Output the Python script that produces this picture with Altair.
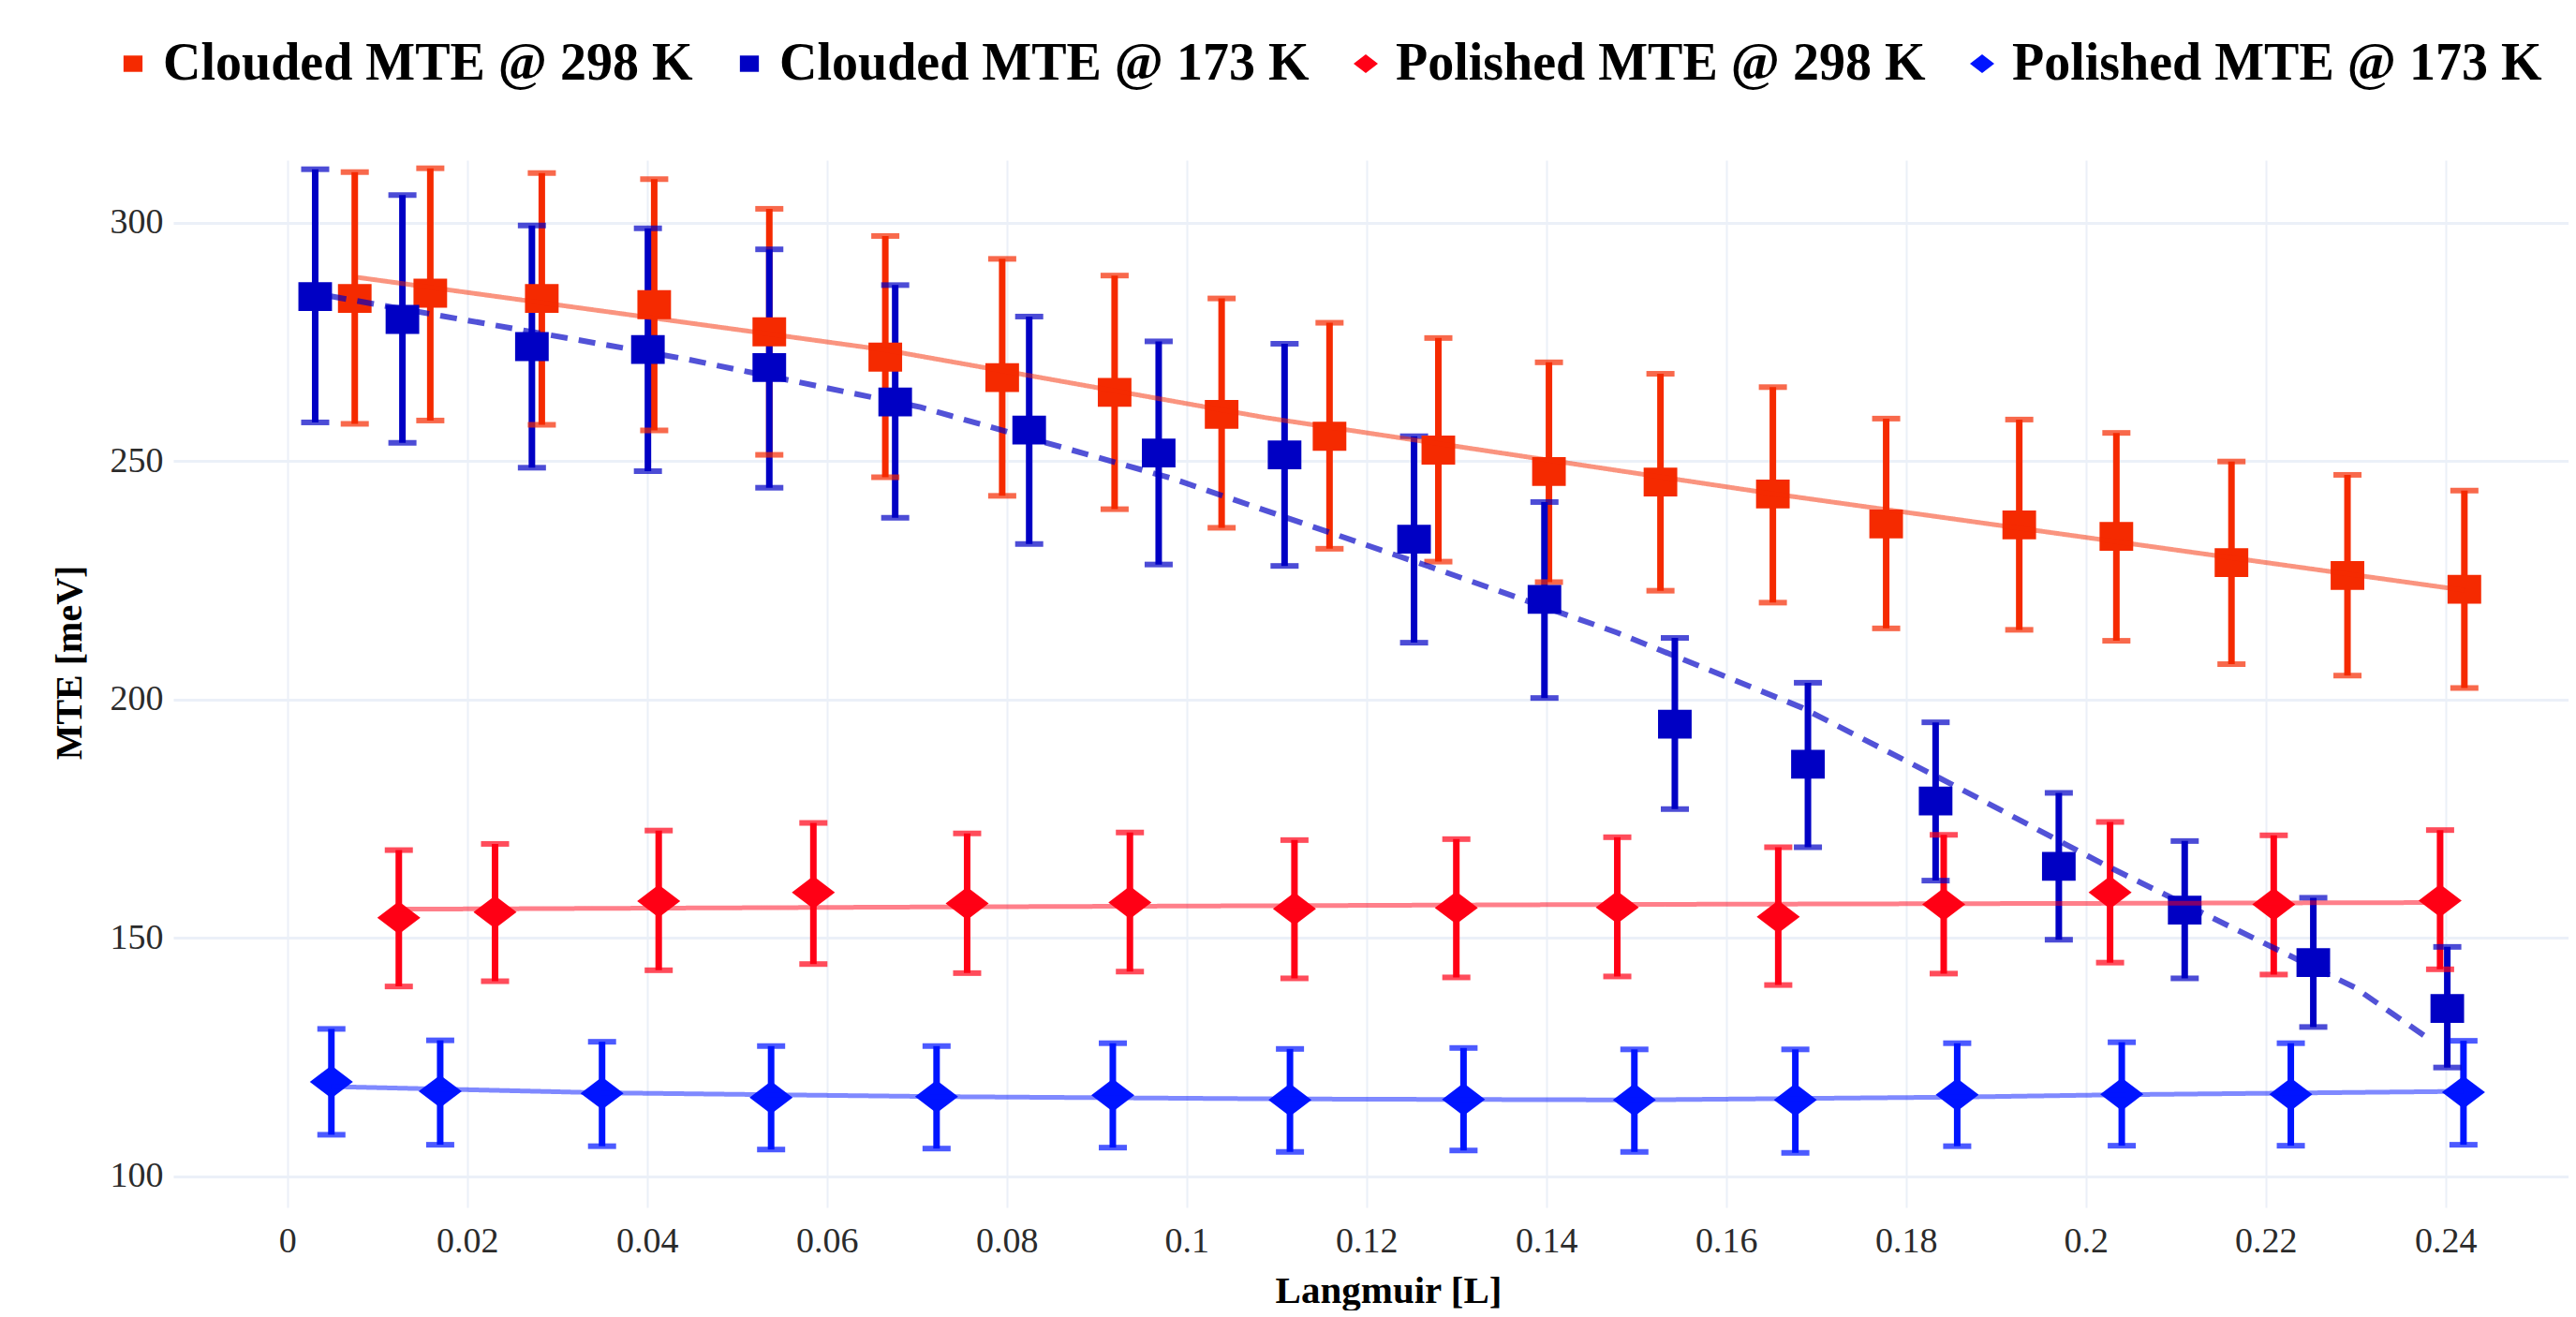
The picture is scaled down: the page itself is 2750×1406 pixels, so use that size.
import altair as alt
import pandas as pd

# ---------------- data ----------------
SERIES = ["Clouded MTE @ 298 K", "Clouded MTE @ 173 K",
          "Polished MTE @ 298 K", "Polished MTE @ 173 K"]
COLORS = ["#F52A00", "#0000C4", "#FF0015", "#0014FF"]

c298_L = [0.0075, 0.0159, 0.0283, 0.0408, 0.0536, 0.0665, 0.0795, 0.0920, 0.1039, 0.1159,
          0.1280, 0.1403, 0.1527, 0.1652, 0.1778, 0.1926, 0.2034, 0.2162, 0.2291, 0.2421]
c298_v = [284.1, 285.2, 284.1, 282.8, 277.1, 271.8, 267.5, 264.4, 259.8, 255.2,
          252.3, 247.8, 245.6, 243.1, 236.8, 236.6, 234.2, 228.7, 226.0, 223.1]
c298_hi = [310.6, 311.4, 310.4, 309.1, 302.9, 297.2, 292.4, 288.9, 284.1, 279.0,
           275.8, 270.7, 268.3, 265.5, 258.9, 258.7, 255.9, 249.9, 247.1, 243.8]
c298_lo = [257.8, 258.5, 257.6, 256.4, 251.3, 246.6, 242.7, 239.9, 236.0, 231.6,
           228.9, 224.6, 222.8, 220.3, 214.9, 214.6, 212.3, 207.4, 205.0, 202.4]

c173_L = [0.0031, 0.0128, 0.0272, 0.0401, 0.0536, 0.0676, 0.0825, 0.0969, 0.1109,
          0.1253, 0.1398, 0.1543, 0.1691, 0.1833, 0.1970, 0.2110, 0.2253, 0.2402]
c173_v = [284.5, 279.7, 274.0, 273.4, 269.6, 262.4, 256.5, 251.7, 251.3,
          233.6, 221.0, 194.8, 186.4, 178.7, 165.0, 155.8, 144.8, 135.2]
c173_hi = [311.2, 305.8, 299.4, 298.8, 294.4, 286.9, 280.3, 275.1, 274.6,
           255.2, 241.4, 212.9, 203.5, 195.2, 180.4, 170.3, 158.4, 148.1]
c173_lo = [258.1, 253.8, 248.6, 247.9, 244.4, 238.1, 232.6, 228.3, 228.0,
           211.9, 200.3, 177.0, 169.0, 162.0, 149.6, 141.5, 131.3, 122.8]

p298_L = [0.0124, 0.0231, 0.0413, 0.0585, 0.0756, 0.0937, 0.1120,
          0.1300, 0.1479, 0.1658, 0.1842, 0.2027, 0.2209, 0.2394]
p298_v = [154.2, 155.4, 157.7, 159.5, 157.2, 157.4, 156.1,
          156.3, 156.4, 154.4, 157.0, 159.5, 157.0, 157.8]
p298_hi = [168.4, 169.7, 172.5, 174.1, 171.9, 172.1, 170.5,
           170.7, 171.1, 169.0, 171.6, 174.3, 171.5, 172.6]
p298_lo = [139.8, 140.9, 143.2, 144.5, 142.6, 142.9, 141.5,
           141.7, 141.9, 140.1, 142.5, 144.8, 142.3, 143.4]

p173_L = [0.0049, 0.0170, 0.0350, 0.0538, 0.0722, 0.0918, 0.1115,
          0.1308, 0.1498, 0.1677, 0.1857, 0.2040, 0.2228, 0.2420]
p173_v = [119.8, 117.8, 117.4, 116.5, 116.7, 117.0, 116.0,
          116.1, 116.0, 116.0, 117.1, 117.2, 117.2, 117.6]
p173_hi = [130.9, 128.5, 128.2, 127.3, 127.3, 127.9, 126.7,
           126.9, 126.6, 126.6, 127.9, 128.1, 127.9, 128.4]
p173_lo = [108.7, 106.6, 106.3, 105.6, 105.8, 106.0, 105.1,
           105.4, 105.1, 104.9, 106.3, 106.4, 106.4, 106.6]

# fit curves
c298_fit_L = [0.0075, 0.0665, 0.1088, 0.1646, 0.2421]
c298_fit_v = [288.6, 273.3, 259.1, 243.3, 222.9]
c173_fit_L = [0.0047, 0.0443, 0.0704, 0.0983, 0.1274, 0.1479, 0.1684,
              0.1852, 0.2020, 0.2159, 0.2299, 0.2383]
c173_fit_v = [284.6, 271.4, 261.3, 246.4, 227.6, 214.0, 198.3,
              182.1, 165.4, 152.5, 139.6, 128.6]
p298_fit_L = [0.0124, 0.0756, 0.1479, 0.2394]
p298_fit_v = [156.0, 156.5, 157.0, 157.4]
p173_fit_L = [0.0049, 0.0350, 0.0722, 0.1115, 0.1498, 0.1857, 0.2040, 0.2420]
p173_fit_v = [118.8, 117.5, 116.7, 116.2, 116.0, 116.6, 117.1, 117.8]

X_TICKS = [0, 0.02, 0.04, 0.06, 0.08, 0.1, 0.12, 0.14, 0.16, 0.18, 0.2, 0.22, 0.24]
Y_TICKS = [100, 150, 200, 250, 300]

# ---------------- tables ----------------
rows = []
for name, Ls, vs, his, los in [
    (SERIES[0], c298_L, c298_v, c298_hi, c298_lo),
    (SERIES[1], c173_L, c173_v, c173_hi, c173_lo),
    (SERIES[2], p298_L, p298_v, p298_hi, p298_lo),
    (SERIES[3], p173_L, p173_v, p173_hi, p173_lo),
]:
    for L, v, h, lo in zip(Ls, vs, his, los):
        rows.append({"series": name, "L": L, "v": v, "hi": h, "lo": lo})
pts = pd.DataFrame(rows)

frows = []
for name, Ls, vs in [
    (SERIES[0], c298_fit_L, c298_fit_v),
    (SERIES[1], c173_fit_L, c173_fit_v),
    (SERIES[2], p298_fit_L, p298_fit_v),
    (SERIES[3], p173_fit_L, p173_fit_v),
]:
    for L, v in zip(Ls, vs):
        frows.append({"series": name, "L": L, "v": v})
fits = pd.DataFrame(frows)

# ---------------- styling ----------------
SERIF = "Liberation Serif"
# marker outlines; relative sizes baked into the paths (square ~36x31, diamond ~46x35 px)
SQ = "M-0.78,-0.67L0.78,-0.67L0.78,0.67L-0.78,0.67Z"
DM = "M-1,0L0,-0.76L1,0L0,0.76Z"

x_scale = alt.Scale(domain=[-0.01268, 0.25368], nice=False, zero=False)
y_scale = alt.Scale(domain=[93.46, 313.1], nice=False, zero=False)
color_scale = alt.Scale(domain=SERIES, range=COLORS)
shape_scale = alt.Scale(type="ordinal", domain=SERIES, range=[SQ, SQ, DM, DM])

x_axis = alt.Axis(values=X_TICKS, format="~g", title="Langmuir [L]", grid=True,
                  gridColor="#EBF0F8", gridWidth=2, domain=False, ticks=False,
                  labelFont=SERIF, labelFontSize=38, labelColor="#2b2b2b",
                  labelPadding=17, labelFlush=False, labelOverlap=False,
                  titleFont=SERIF, titleFontSize=41, titleFontWeight="bold",
                  titleColor="black", titleX=1297, titleY=89,
                  titleAlign="center", titleBaseline="middle")
y_axis = alt.Axis(values=Y_TICKS, title="MTE [meV]", grid=True,
                  gridColor="#EBF0F8", gridWidth=3, domain=False, ticks=False,
                  labelFont=SERIF, labelFontSize=38, labelColor="#2b2b2b",
                  labelPadding=11, labelOverlap=False,
                  titleFont=SERIF, titleFontSize=40, titleFontWeight="bold",
                  titleColor="black", titleAngle=270, titleX=-111, titleY=536,
                  titleAlign="center", titleBaseline="middle")

X = alt.X("L:Q", scale=x_scale, axis=x_axis)

legend = alt.Legend(title=None, orient="none", legendX=-71, legendY=-131,
                    direction="horizontal", columns=4, columnPadding=32,
                    labelFont=SERIF, labelFontSize=56, labelFontWeight="bold",
                    labelColor="black", labelLimit=3000, labelOffset=4,
                    symbolSize=676, symbolStrokeWidth=0, padding=0)

base = alt.Chart(pts)

stems = base.mark_rule(strokeWidth=7).encode(
    x=X,
    y=alt.Y("lo:Q", scale=y_scale, axis=y_axis),
    y2="hi:Q",
    color=alt.Color("series:N", scale=color_scale, legend=None),
)
caps_hi = base.mark_tick(orient="horizontal", size=30, thickness=6).encode(
    x=X,
    y=alt.Y("hi:Q", scale=y_scale, axis=y_axis),
    color=alt.Color("series:N", scale=color_scale, legend=None),
)
caps_lo = base.mark_tick(orient="horizontal", size=30, thickness=6).encode(
    x=X,
    y=alt.Y("lo:Q", scale=y_scale, axis=y_axis),
    color=alt.Color("series:N", scale=color_scale, legend=None),
)
points = base.mark_point(filled=True, opacity=1, strokeWidth=0, size=2116).encode(
    x=X,
    y=alt.Y("v:Q", scale=y_scale, axis=y_axis),
    color=alt.Color("series:N", scale=color_scale, legend=legend),
    shape=alt.Shape("series:N", scale=shape_scale, legend=legend),
)
lines = alt.Chart(fits).mark_line().encode(
    x=X,
    y=alt.Y("v:Q", scale=y_scale, axis=y_axis),
    color=alt.Color("series:N", scale=color_scale, legend=None),
    detail="series:N",
    opacity=alt.Opacity("series:N",
                        scale=alt.Scale(type="ordinal", domain=SERIES,
                                        range=[0.5, 0.68, 0.5, 0.5]),
                        legend=None),
    strokeDash=alt.StrokeDash("series:N",
                              scale=alt.Scale(type="ordinal", domain=SERIES,
                                              range=[[1, 0], [18, 12], [1, 0], [1, 0]]),
                              legend=None),
    strokeWidth=alt.StrokeWidth("series:N",
                                scale=alt.Scale(type="ordinal", domain=SERIES,
                                                range=[5, 6, 5, 5]),
                                legend=None),
)

chart = alt.layer(stems, caps_hi, caps_lo, points, lines).resolve_legend(
    color="independent", shape="independent",
    opacity="independent", strokeDash="independent", strokeWidth="independent",
).properties(
    width=2557,
    height=1118,
    autosize=alt.AutoSizeParams(type="none"),
    padding={"left": 177, "top": 163, "right": 0, "bottom": 110},
    background="white",
).configure_view(stroke=None).configure_legend(
    labelFont=SERIF, labelFontSize=56, labelFontWeight="bold", labelColor="black",
    labelLimit=3000, symbolSize=676, symbolStrokeWidth=0,
)

chart.save("out.html", embed_options={"renderer": "svg", "actions": False})
